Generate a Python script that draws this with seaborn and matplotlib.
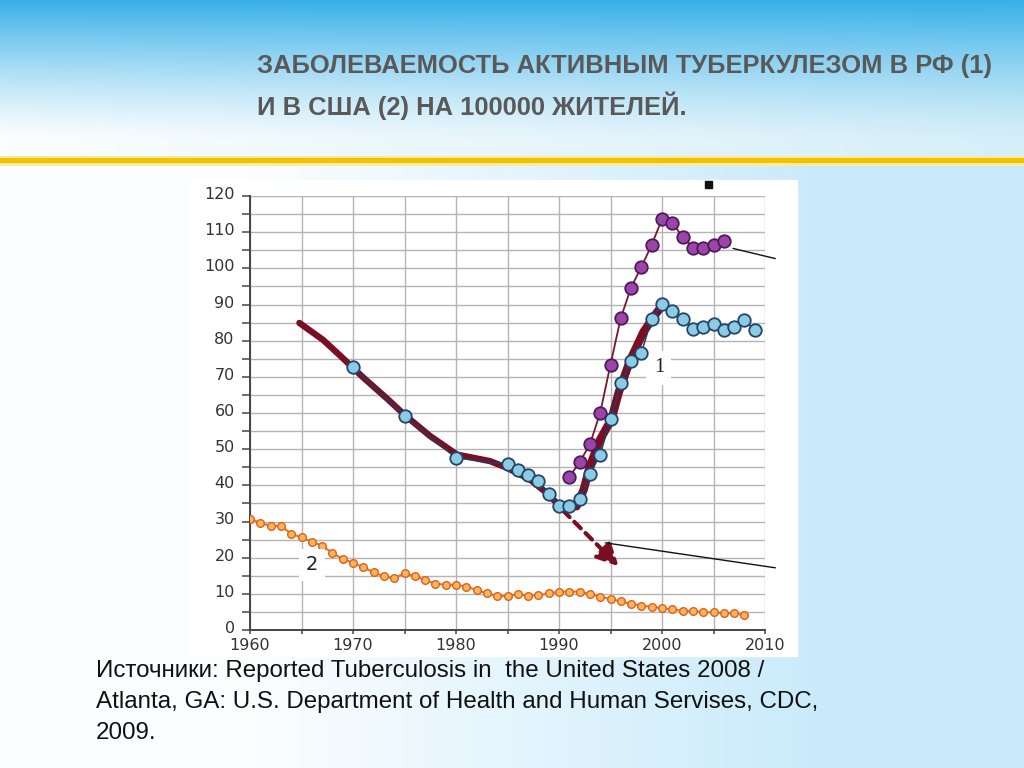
import numpy as np
import pandas as pd
import matplotlib
matplotlib.use("Agg")
import matplotlib.pyplot as plt
import matplotlib.transforms as mtransforms
import seaborn as sns
from matplotlib.patches import Rectangle
from matplotlib import font_manager

# ---------------- data ----------------
usa_years = list(range(1960, 2009))
usa_rate = [30.8, 29.6, 28.8, 28.8, 26.6, 25.6, 24.4, 23.3, 21.3, 19.6,
            18.6, 17.3, 16.0, 14.8, 14.3, 15.7, 14.9, 13.8, 12.8, 12.5,
            12.5, 12.0, 11.1, 10.1, 9.4, 9.4, 9.9, 9.4, 9.6, 10.1,
            10.6, 10.6, 10.6, 9.9, 9.2, 8.6, 7.9, 7.3, 6.7, 6.4,
            6.0, 5.7, 5.3, 5.3, 4.9, 4.9, 4.6, 4.6, 4.1]

rf_blue_years = [1970, 1975, 1980, 1985, 1986, 1987, 1988, 1989, 1990, 1991,
                 1992, 1993, 1994, 1995, 1996, 1997, 1998, 1999, 2000, 2001,
                 2002, 2003, 2004, 2005, 2006, 2007, 2008, 2009]
rf_blue_rate = [72.6, 59.2, 47.6, 45.8, 44.2, 42.9, 41.3, 37.7, 34.4, 34.4,
                36.1, 43.0, 48.5, 58.3, 68.3, 74.4, 76.6, 86.1, 90.2, 88.2,
                86.1, 83.3, 83.9, 84.5, 83.0, 83.7, 85.6, 83.0]

rf_purple_years = list(range(1991, 2007))
rf_purple_rate = [42.3, 46.4, 51.3, 60.1, 73.4, 86.3, 94.7, 100.4, 106.5, 113.6,
                  112.6, 108.7, 105.7, 105.7, 106.5, 107.6]

# hand-drawn trend line: falling part and rising part
trend_fall_years = [1964.8, 1967.1, 1968.7, 1970.0, 1971.0, 1973.3, 1975.0, 1977.5,
                    1980.1, 1983.3, 1984.9, 1987.2, 1988.8, 1990.1, 1991.7]
trend_fall_rate = [84.9, 80.2, 76.0, 72.5, 69.8, 64.0, 59.5, 53.6,
                   48.5, 46.7, 44.9, 41.6, 37.9, 34.2, 34.2]
trend_rise_years = [1991.7, 1992.4, 1993.0, 1994.0, 1995.1, 1995.8, 1996.9,
                    1998.2, 1999.3, 1999.9]
trend_rise_rate = [34.2, 38.8, 45.3, 52.7, 58.3, 65.7, 74.5, 82.4, 87.0, 89.3]

forecast_start = (1990.4, 33.0)
forecast_end = (1995.8, 17.6)

leader_lines = [((2006.9, 105.5), (2011.0, 102.7)),
                ((1994.5, 24.1), (2011.0, 17.2))]

x_ticks = [1960, 1970, 1980, 1990, 2000, 2010]
y_ticks = [0, 10, 20, 30, 40, 50, 60, 70, 80, 90, 100, 110, 120]

title_lines = ["ЗАБОЛЕВАЕМОСТЬ АКТИВНЫМ ТУБЕРКУЛЕЗОМ В РФ (1)",
               "И В США (2) НА 100000 ЖИТЕЛЕЙ."]
source_lines = ["Источники: Reported Tuberculosis in  the United States 2008 /",
                "Atlanta, GA: U.S. Department of Health and Human Servises, CDC,",
                "2009."]

# ---------------- style ----------------
sns.set_theme(style="white")
plt.rcParams["font.family"] = ["DejaVu Sans"]


def has_font(name):
    try:
        font_manager.findfont(font_manager.FontProperties(family=name),
                              fallback_to_default=False)
        return True
    except Exception:
        return False


narrow = "Liberation Sans Narrow" if has_font("Liberation Sans Narrow") else "Liberation Sans"

W, H = 1024, 768
fig = plt.figure(figsize=(W / 100, H / 100), dpi=100)

# ---------------- slide background ----------------
bg = fig.add_axes([0, 0, 1, 1], zorder=-10)
yy, xx = np.mgrid[0:H, 0:W].astype(float)
white = np.array([0.985, 0.995, 1.0])
light = np.array([0.79, 0.92, 0.985])
t = np.clip((xx - 250) / 570, 0, 1)[..., None]
img = white * (1 - t) + light * t
# top band
top_base_t = np.clip(xx / W, 0, 1)[..., None] * 0.8
top_base = white * (1 - top_base_t) + np.array([0.80, 0.92, 0.97]) * top_base_t
blue = np.array([0.22, 0.69, 0.91])
s = np.clip(1 - yy / 140, 0, 1)[..., None] ** 1.3
top = top_base * (1 - s) + blue * s
mask = (yy < 158)[..., None]
img = np.where(mask, top, img)
# yellow line
img[156:158] = [0.98, 0.92, 0.6]
img[158:163] = [0.95, 0.76, 0.0]
img[163:166] = [0.98, 0.93, 0.65]
bg.imshow(img, extent=[0, W, H, 0], aspect="auto", interpolation="bilinear")
bg.add_patch(Rectangle((190, 180), 607, 476, color="white", zorder=3))
bg.add_patch(Rectangle((705, 181), 7, 7, color="#111111", zorder=4))
bg.set_xlim(0, W)
bg.set_ylim(H, 0)
bg.axis("off")

# ---------------- chart ----------------
ax = fig.add_axes([250 / W, 1 - 630 / H, 515 / W, 434 / H])
ax.set_facecolor("white")

df_usa = pd.DataFrame({"year": usa_years, "rate": usa_rate})
df_blue = pd.DataFrame({"year": rf_blue_years, "rate": rf_blue_rate})
df_purple = pd.DataFrame({"year": rf_purple_years, "rate": rf_purple_rate})
df_fall = pd.DataFrame({"year": trend_fall_years, "rate": trend_fall_rate})
df_rise = pd.DataFrame({"year": trend_rise_years, "rate": trend_rise_rate})

sns.lineplot(data=df_usa, x="year", y="rate", ax=ax, color="#e8731f", lw=1.5,
             marker="o", markersize=5.5, markerfacecolor="#fab55e",
             markeredgecolor="#e0601a", markeredgewidth=1.0, zorder=4)
sns.lineplot(data=df_fall, x="year", y="rate", ax=ax, color="#7a0e22", lw=4.6,
             zorder=3, solid_capstyle="round", solid_joinstyle="round")
sns.lineplot(data=df_rise, x="year", y="rate", ax=ax, color="#7a0e22", lw=6.0,
             zorder=3, solid_capstyle="round", solid_joinstyle="round")
sns.lineplot(data=df_blue, x="year", y="rate", ax=ax, color="#1f3e66", lw=1.1,
             marker="o", markersize=9, markerfacecolor="#8ccbe4",
             markeredgecolor="#24456b", markeredgewidth=1.3, zorder=5)
sns.lineplot(data=df_purple, x="year", y="rate", ax=ax, color="#7b1530", lw=1.3,
             marker="o", markersize=9, markerfacecolor="#9c45a8",
             markeredgecolor="#4e1a5a", markeredgewidth=1.3, zorder=5)

ax.annotate("", xy=forecast_end, xytext=forecast_start,
            arrowprops=dict(arrowstyle="-|>,head_length=1.1,head_width=0.55",
                            color="#7a0e22", lw=3, linestyle=(0, (2.2, 1.6)),
                            shrinkA=0, shrinkB=0), zorder=4)
for (x0, y0), (x1, y1) in leader_lines:
    ax.plot([x0, x1], [y0, y1], color="#111111", lw=1.0, clip_on=False, zorder=6)

ax.text(1999.7, 72.5, "1", family="Liberation Serif", fontsize=15, color="#222222",
        ha="center", va="center", zorder=4.5,
        bbox=dict(boxstyle="square,pad=0.35", fc="white", ec="none"))
ax.text(1966.0, 18.0, "2", fontsize=14, color="#222222",
        ha="center", va="center", zorder=4.5,
        bbox=dict(boxstyle="square,pad=0.35", fc="white", ec="none"))

ax.set_xlim(1960, 2010)
ax.set_ylim(0, 120)
ax.set_xticks(x_ticks)
ax.set_xticks(np.arange(1965, 2010, 10), minor=True)
ax.set_yticks(y_ticks)
ax.set_yticks(np.arange(5, 120, 10), minor=True)
ax.set_xticklabels([str(v) for v in x_ticks])
ax.set_yticklabels([str(v) for v in y_ticks])
ax.grid(True, which="both", color="#b4b4b4", lw=1.0)
ax.set_axisbelow(True)
for side in ["top", "right"]:
    ax.spines[side].set_visible(False)
for side in ["left", "bottom"]:
    ax.spines[side].set_color("#444444")
    ax.spines[side].set_linewidth(1.4)
ax.tick_params(axis="y", which="both", direction="out", length=6, width=1.1,
               color="#444444", left=True, labelsize=11.5, labelcolor="#333333", pad=5)
ax.tick_params(axis="x", which="both", direction="out", length=3, width=1.1,
               color="#444444", bottom=True, labelsize=11.5, labelcolor="#333333", pad=2.5)
shift_up = mtransforms.ScaledTranslation(0, 3 / 100, fig.dpi_scale_trans)
for lab in ax.get_yticklabels():
    lab.set_transform(lab.get_transform() + shift_up)
ax.set_xlabel("")
ax.set_ylabel("")
legend = ax.get_legend()
if legend is not None:
    legend.remove()

# ---------------- texts ----------------
fig.text(257 / W, 1 - 72.5 / H, title_lines[0], family=[narrow, "DejaVu Sans"],
         fontweight="bold", fontsize=18.4, color="#595959", va="baseline", ha="left")
fig.text(257 / W, 1 - 115 / H, title_lines[1], family=[narrow, "DejaVu Sans"],
         fontweight="bold", fontsize=18.4, color="#595959", va="baseline", ha="left")

for i, line in enumerate(source_lines):
    fig.text(96 / W, 1 - (677 + 31 * i) / H, line,
             family=["Liberation Sans", "DejaVu Sans"], fontsize=17.4,
             color="#111111", va="baseline", ha="left")

fig.savefig("out.png", dpi=100)
